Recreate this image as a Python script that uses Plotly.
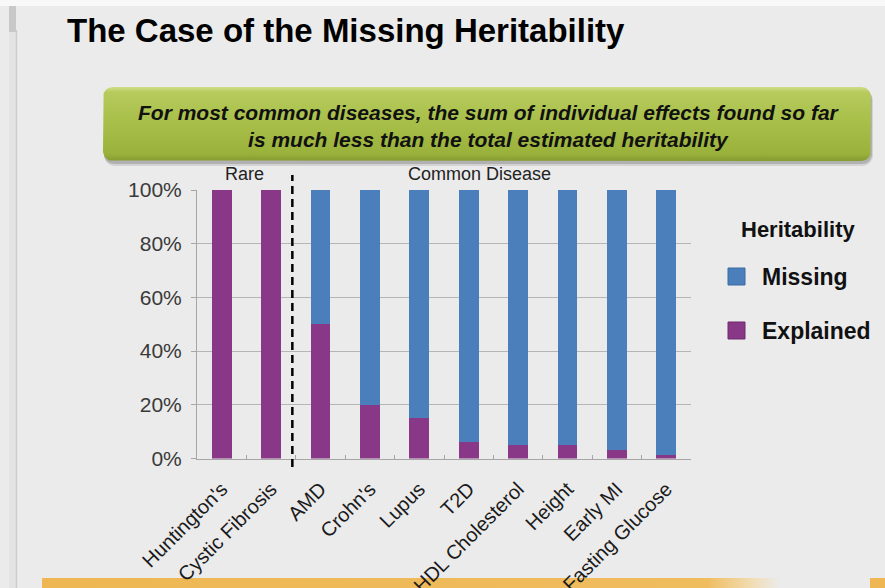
import numpy as np
import plotly.graph_objects as go

# ---- data -------------------------------------------------------------
diseases = ["Huntington's", "Cystic Fibrosis", "AMD", "Crohn's", "Lupus", "T2D",
            "HDL Cholesterol", "Height", "Early MI", "Fasting Glucose"]
explained = [100, 100, 50, 20, 15, 6, 5, 5, 3, 1.2]
missing = [100 - v for v in explained]
y_ticks = [0, 20, 40, 60, 80, 100]
y_tick_labels = ["0%", "20%", "40%", "60%", "80%", "100%"]

W, H = 885, 588
BG = "#ebebeb"
PURPLE = "#883887"
BLUE = "#4a7fbc"
FONT = "Liberation Sans, Arial, sans-serif"


def rounded_rect(x0, y0, x1, y1, r, n=10):
    """Outline points of a rounded rectangle in pixel coordinates (y down)."""
    xs, ys = [], []
    corners = [(x1 - r, y0 + r, -90, 0), (x1 - r, y1 - r, 0, 90),
               (x0 + r, y1 - r, 90, 180), (x0 + r, y0 + r, 180, 270)]
    for cx, cy, a0, a1 in corners:
        t = np.radians(np.linspace(a0, a1, n))
        xs.extend(cx + r * np.cos(t))
        ys.extend(cy + r * np.sin(t))
    xs.append(xs[0]); ys.append(ys[0])
    return xs, ys


def rr_path(x0, y0, x1, y1, r):
    xs, ys = rounded_rect(x0, y0, x1, y1, r)
    return "M " + " L ".join(f"{a:.2f},{b:.2f}" for a, b in zip(xs, ys)) + " Z"


fig = go.Figure()

# ---- decoration layer (pixel coordinates on x / y) ---------------------
BOX = (103, 87, 871, 161)
bx, by = rounded_rect(*BOX, 10)
fig.add_trace(go.Scatter(
    x=bx, y=by, xaxis="x", yaxis="y", mode="lines", line=dict(width=0),
    fill="toself", hoverinfo="skip", showlegend=False,
    fillgradient=dict(type="vertical", start=BOX[1], stop=BOX[3],
                      colorscale=[[0, "#cfdd86"], [0.07, "#b7cb5d"],
                                  [0.5, "#a7be48"], [0.9, "#9ab13c"],
                                  [1, "#859d2f"]])))

# bottom banner strip
sx = [42, 780, 780, 42, 42]
sy = [578, 578, 589, 589, 578]
fig.add_trace(go.Scatter(
    x=sx, y=sy, xaxis="x", yaxis="y", mode="lines", line=dict(width=0),
    fill="toself", hoverinfo="skip", showlegend=False,
    fillgradient=dict(type="horizontal", start=42, stop=780,
                      colorscale=[[0, "#eeb753"], [0.9, "#efbc5e"],
                                  [0.96, "#f1dcb0"], [1, BG]])))

# ---- bars --------------------------------------------------------------
fig.add_trace(go.Bar(name="Explained", x=diseases, y=explained,
                     marker=dict(color=PURPLE, line=dict(width=0)),
                     xaxis="x2", yaxis="y2", showlegend=False))
fig.add_trace(go.Bar(name="Missing", x=diseases, y=missing,
                     marker=dict(color=BLUE, line=dict(width=0)),
                     xaxis="x2", yaxis="y2", showlegend=False))

shapes = [
    # slide frame on the left
    dict(type="rect", xref="x", yref="y", x0=0, x1=W, y0=0, y1=6,
         fillcolor="#f8f8f8", line=dict(width=0), layer="below"),
    dict(type="rect", xref="x", yref="y", x0=9, x1=16, y0=6, y1=H,
         fillcolor="#e3e3e3", line=dict(width=0), layer="below"),
    dict(type="rect", xref="x", yref="y", x0=9, x1=16, y0=6, y1=32,
         fillcolor="#c8c8c8", line=dict(width=0), layer="below"),
    dict(type="line", xref="x", yref="y", x0=16.5, x1=16.5, y0=30, y1=H,
         line=dict(color="#cdcdcd", width=1.5), layer="below"),
    # callout shadow
    dict(type="path", xref="x", yref="y", path=rr_path(104, 90, 873, 166, 11),
         fillcolor="rgba(0,0,0,0.10)", line=dict(width=0), layer="below"),
    dict(type="path", xref="x", yref="y", path=rr_path(104, 89, 872, 164, 10),
         fillcolor="rgba(0,0,0,0.16)", line=dict(width=0), layer="below"),
    # right banner stub
    dict(type="rect", xref="x", yref="y", x0=870, x1=W, y0=578, y1=589,
         fillcolor="#eeb753", line=dict(width=0), layer="below"),
    # rare / common divider
    dict(type="line", xref="x2", yref="paper", x0=1.43, x1=1.43,
         y0=1 - 467 / H, y1=1 - 175 / H,
         line=dict(color="black", width=2.5, dash="8px,5px")),
    # legend swatches
    dict(type="rect", xref="x", yref="y", x0=728, x1=745, y0=268, y1=285,
         fillcolor=BLUE, line=dict(color="#3a6aa0", width=1)),
    dict(type="rect", xref="x", yref="y", x0=728, x1=745, y0=322, y1=339,
         fillcolor=PURPLE, line=dict(color="#6e2b6d", width=1)),
]

annotations = [
    dict(text="<b>The Case of the Missing Heritability</b>", xref="x", yref="y",
         x=65, y=30, xanchor="left", yanchor="middle", showarrow=False,
         font=dict(family=FONT, size=33, color="black")),
    dict(text="<b><i>For most common diseases, the sum of individual effects found so far"
              "<br>is much less than the total estimated heritability</i></b>",
         xref="x", yref="y", x=489, y=126, xanchor="center", yanchor="middle",
         showarrow=False, align="center",
         font=dict(family=FONT, size=21, color="#111")),
    dict(text="Rare", xref="x", yref="y", x=244, y=174, showarrow=False,
         xanchor="center", yanchor="middle", font=dict(family=FONT, size=18, color="#222")),
    dict(text="Common Disease", xref="x", yref="y", x=479, y=174, showarrow=False,
         xanchor="center", yanchor="middle", font=dict(family=FONT, size=18, color="#222")),
    dict(text="<b>Heritability</b>", xref="x", yref="y", x=798, y=229, showarrow=False,
         xanchor="center", yanchor="middle", font=dict(family=FONT, size=22, color="#111")),
    dict(text="<b>Missing</b>", xref="x", yref="y", x=760, y=277, showarrow=False,
         xanchor="left", yanchor="middle", font=dict(family=FONT, size=23, color="#111")),
    dict(text="<b>Explained</b>", xref="x", yref="y", x=760, y=331, showarrow=False,
         xanchor="left", yanchor="middle", font=dict(family=FONT, size=23, color="#111")),
]

fig.update_layout(
    width=W, height=H, margin=dict(l=0, r=0, t=0, b=0, pad=0, autoexpand=False),
    paper_bgcolor=BG, plot_bgcolor="rgba(0,0,0,0)",
    barmode="stack", bargap=0.6, showlegend=False,
    xaxis=dict(domain=[0, 1], range=[0, W], visible=False, fixedrange=True,
               automargin=False),
    yaxis=dict(domain=[0, 1], range=[H, 0], visible=False, fixedrange=True,
               automargin=False),
    xaxis2=dict(domain=[197 / W, 691 / W], anchor="y2", type="category",
                automargin=False,
                showline=True, linecolor="#a6a6a6", linewidth=1,
                ticks="inside", tickson="boundaries", ticklen=4, tickcolor="#a6a6a6",
                tickangle=-45, ticklabelstandoff=10,
                tickfont=dict(family=FONT, size=20, color="#1a1a1a"),
                showgrid=False, range=[-0.5, 9.5]),
    yaxis2=dict(domain=[1 - 458.5 / H, 1 - 190 / H], anchor="x2", range=[0, 100],
                automargin=False,
                tickvals=y_ticks, ticktext=y_tick_labels,
                showline=True, linecolor="#a6a6a6", linewidth=1,
                ticks="outside", ticklen=5, tickcolor="#a6a6a6",
                ticklabelstandoff=5,
                showgrid=True, gridcolor="#b5b5b5", gridwidth=1, zeroline=False,
                tickfont=dict(family=FONT, size=21, color="#3a3a3a")),
    shapes=shapes, annotations=annotations,
)

fig.write_html("out.html")
